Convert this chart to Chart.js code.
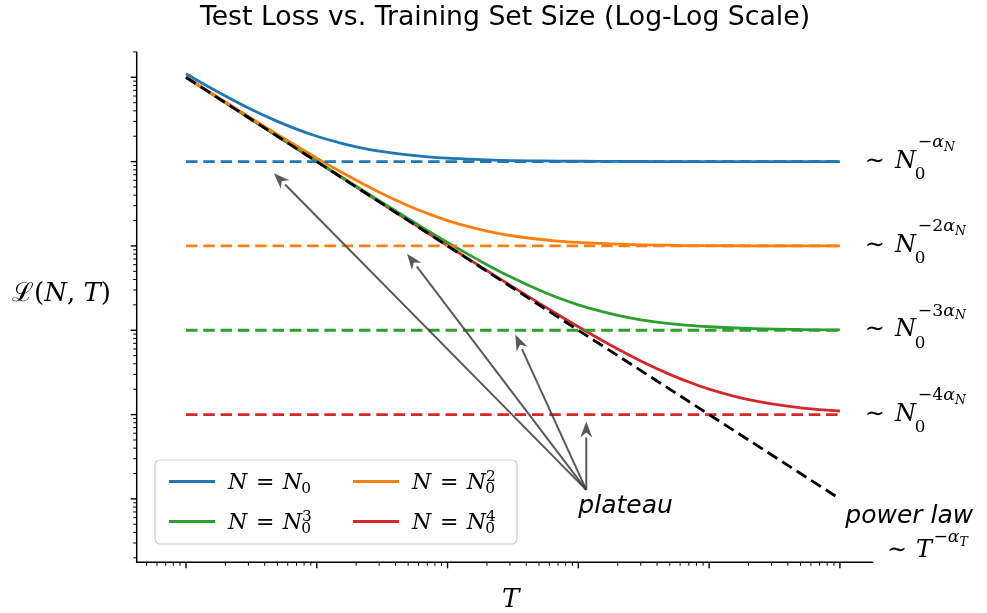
<!DOCTYPE html>
<html>
<head>
<meta charset="utf-8">
<script src="https://cdn.jsdelivr.net/npm/chart.js@4"></script>
<style>
  html, body { margin: 0; padding: 0; background: #fff; }
  #wrap { width: 987px; height: 613px; }
</style>
</head>
<body>
<div id="wrap"><canvas id="chartLoss" width="987" height="613"></canvas></div>
<script>
// training set sizes T (sampled along the curves)
const sizes = [1, 1.5, 2, 3, 5, 7, 10, 15, 20, 30, 50, 70, 100, 150, 200, 300, 500, 700,
    1000, 1500, 2000, 3000, 5000, 7000, 10000, 20000, 50000, 100000];

// test loss, one list per model size
const lossN1 = [1.1, 0.767, 0.6, 0.433, 0.3, 0.243, 0.2, 0.167, 0.15, 0.133, 0.12, 0.114, 0.11,
    0.107, 0.105, 0.103, 0.102, 0.1014, 0.101, 0.1007, 0.1005, 0.1003, 0.1002, 0.1001, 0.1001, 0.1, 0.1, 0.1];
const lossN2 = [1.01, 0.677, 0.51, 0.343, 0.21, 0.153, 0.11, 0.0767, 0.06, 0.0433, 0.03, 0.0243, 0.02,
    0.0167, 0.015, 0.0133, 0.012, 0.0114, 0.011, 0.0107, 0.0105, 0.0103, 0.0102, 0.0101, 0.0101, 0.01, 0.01, 0.01];
const lossN3 = [1.001, 0.668, 0.501, 0.334, 0.201, 0.144, 0.101, 0.0677, 0.051, 0.0343, 0.021, 0.0153, 0.011,
    0.00767, 0.006, 0.00433, 0.003, 0.00243, 0.002, 0.00167, 0.0015, 0.00133, 0.0012, 0.00114, 0.0011,
    0.00105, 0.00102, 0.00101];
const lossN4 = [1.0001, 0.6668, 0.5001, 0.3334, 0.2001, 0.143, 0.1001, 0.0668, 0.0501, 0.0334, 0.0201, 0.0144,
    0.0101, 0.00677, 0.0051, 0.00343, 0.0021, 0.00153, 0.0011, 0.000767, 0.0006, 0.000433, 0.0003,
    0.000243, 0.0002, 0.00015, 0.00012, 0.00011];

// plateau levels and the pure power law
const plateaus = [0.1, 0.01, 0.001, 0.0001];
const plateauSpan = [1, 100000];
const powerT = [1, 100000];
const powerLoss = [1, 0.00001];

// arrow tips (T, loss) and their shared tail
const arrowT = [4.7, 49, 330, 1150];
const arrowLoss = [0.073, 0.0081, 0.00089, 0.000083];
const arrowTail = [1150, 0.0000128];

const labels = ["N = N₀", "N = N₀²", "N = N₀³", "N = N₀⁴"];
const colors = ["#1f77b4", "#ff7f0e", "#2ca02c", "#d62728"];

const pts = (xs, ys) => xs.map((x, i) => ({ x: x, y: ys[i] }));

const MATH = '"DejaVu Serif", "Liberation Serif", serif';
const SANS = '"DejaVu Sans", sans-serif';

// small helper for sub/superscripts: runs of text with scale and offset
function drawRuns(ctx, x, y, runs, size) {
    let cx = x;
    let mark = x;
    for (const r of runs) {
        const s = size * (r.s || 1);
        ctx.font = (r.it ? "italic " : "") + s + "px " + MATH;
        if (r.mark) mark = cx;
        if (r.back) cx = mark;
        cx += (r.dx || 0) * size;
        ctx.fillText(r.t, cx, y + (r.dy || 0) * size);
        cx += ctx.measureText(r.t).width;
    }
}

const legendRuns = ["", "2", "3", "4"].map((k) => {
    const r = [{ t: "N", it: true }, { t: " = ", dx: 0.08 }, { t: "N", it: true, dx: 0.06 },
        { t: "0", s: 0.7, dy: 0.2, mark: true, dx: -0.03 }];
    if (k) r.push({ t: k, s: 0.7, dy: -0.36, back: true });
    return r;
});
const rightRuns = ["", "2", "3", "4"].map((k) => [{ t: "∼ " }, { t: "N", it: true, dx: 0.1 },
    { t: "0", s: 0.7, dy: 0.48, mark: true, dx: -0.05 },
    { t: "−" + k, s: 0.72, dy: -0.86, back: true, dx: 0.08 },
    { t: "α", s: 0.72, dy: -0.86, it: true },
    { t: "N", s: 0.52, dy: -0.7, it: true }]);

const decor = {
    id: "decor",
    afterDraw(chart) {
        const ctx = chart.ctx;
        const xs = chart.scales.x;
        const ys = chart.scales.y;
        const a = chart.chartArea;
        ctx.save();

        // spines
        ctx.strokeStyle = "#000";
        ctx.lineWidth = 1.5;
        ctx.beginPath();
        ctx.moveTo(a.left, a.top);
        ctx.lineTo(a.left, a.bottom);
        ctx.lineTo(a.right, a.bottom);
        ctx.stroke();

        // log ticks
        for (let k = -1; k <= 5; k++) {
            for (let m = 1; m <= 9; m++) {
                const v = m * Math.pow(10, k);
                if (v < xs.min || v > xs.max) continue;
                const px = xs.getPixelForValue(v);
                ctx.lineWidth = m === 1 ? 1.4 : 1;
                ctx.beginPath();
                ctx.moveTo(px, a.bottom);
                ctx.lineTo(px, a.bottom + (m === 1 ? 6 : 3.5));
                ctx.stroke();
            }
        }
        for (let k = -6; k <= 0; k++) {
            for (let m = 1; m <= 9; m++) {
                const v = m * Math.pow(10, k);
                if (v < ys.min || v > ys.max) continue;
                const py = ys.getPixelForValue(v);
                ctx.lineWidth = m === 1 ? 1.4 : 1;
                ctx.beginPath();
                ctx.moveTo(a.left, py);
                ctx.lineTo(a.left - (m === 1 ? 6 : 3.5), py);
                ctx.stroke();
            }
        }

        // arrows
        const tx = xs.getPixelForValue(arrowTail[0]);
        const ty = ys.getPixelForValue(arrowTail[1]);
        ctx.strokeStyle = "rgba(60,60,60,0.85)";
        ctx.fillStyle = "rgba(60,60,60,0.85)";
        ctx.lineWidth = 2;
        arrowT.forEach((t, i) => {
            const hx = xs.getPixelForValue(t);
            const hy = ys.getPixelForValue(arrowLoss[i]);
            const ang = Math.atan2(hy - ty, hx - tx);
            const len = 16, half = 6;
            const bx = hx - len * Math.cos(ang);
            const by = hy - len * Math.sin(ang);
            ctx.beginPath();
            ctx.moveTo(tx, ty);
            ctx.lineTo(bx, by);
            ctx.stroke();
            ctx.beginPath();
            ctx.moveTo(hx, hy);
            ctx.lineTo(bx + half * Math.sin(ang), by - half * Math.cos(ang));
            ctx.lineTo(bx + 0.3 * len * Math.cos(ang), by + 0.3 * len * Math.sin(ang));
            ctx.lineTo(bx - half * Math.sin(ang), by + half * Math.cos(ang));
            ctx.closePath();
            ctx.fill();
        });

        // text annotations
        ctx.fillStyle = "#000";
        ctx.textBaseline = "alphabetic";
        ctx.textAlign = "left";
        ctx.font = "italic 25px " + SANS;
        ctx.fillText("plateau", xs.getPixelForValue(1000), 513);
        ctx.fillText("power law", xs.getPixelForValue(110000), 523);

        const rx = xs.getPixelForValue(155000);
        plateaus.forEach((p, i) => {
            drawRuns(ctx, rx, ys.getPixelForValue(p) + 6, rightRuns[i], 24);
        });
        drawRuns(ctx, 887, 556.5, [{ t: "∼ " }, { t: "T", it: true, dx: 0.05 },
            { t: "−", s: 0.72, dy: -0.6, dx: 0.06 }, { t: "α", s: 0.72, dy: -0.6, it: true },
            { t: "T", s: 0.52, dy: -0.44, it: true }], 24);

        // axis labels
        drawRuns(ctx, 12, 301, [{ t: "ℒ" }, { t: "(" }, { t: "N", it: true }, { t: ", " },
            { t: "T", it: true }, { t: ")" }], 26);
        drawRuns(ctx, 502, 607, [{ t: "T", it: true }], 26);

        // legend
        const lx = 155, ly = 460, lw = 362, lh = 84;
        ctx.beginPath();
        ctx.roundRect(lx, ly, lw, lh, 5);
        ctx.fillStyle = "rgba(255,255,255,0.85)";
        ctx.fill();
        ctx.strokeStyle = "#cccccc";
        ctx.lineWidth = 1.2;
        ctx.stroke();
        const cols = [169, 353];
        const rows = [481.5, 521.5];
        const order = [[0, 0, 0], [1, 1, 0], [2, 0, 1], [3, 1, 1]];
        order.forEach(([i, c, r]) => {
            ctx.strokeStyle = colors[i];
            ctx.lineWidth = 2.8;
            ctx.beginPath();
            ctx.moveTo(cols[c], rows[r]);
            ctx.lineTo(cols[c] + 46, rows[r]);
            ctx.stroke();
            ctx.fillStyle = "#000";
            drawRuns(ctx, cols[c] + 59, rows[r] + 7.5, legendRuns[i], 22);
        });
        ctx.restore();
    },
};

const datasets = [
    {
        label: "power law",
        data: pts(powerT, powerLoss),
        borderColor: "#000",
        borderWidth: 2.8,
        borderDash: [11.5, 5.8],
        order: 0,
    },
];
plateaus.forEach((p, i) => {
    datasets.push({
        label: labels[i] + " plateau",
        data: pts(plateauSpan, [p, p]),
        borderColor: colors[i],
        borderWidth: 2.8,
        borderDash: [11.5, 5.8],
        order: 1 + i,
    });
});
[lossN1, lossN2, lossN3, lossN4].forEach((ys, i) => {
    datasets.push({
        label: labels[i],
        data: pts(sizes, ys),
        borderColor: colors[i],
        borderWidth: 2.8,
        cubicInterpolationMode: "monotone",
        order: 5 + i,
    });
});

const config = {
    type: "scatter",
    data: { datasets: datasets },
    options: {
        responsive: false,
        animation: false,
        devicePixelRatio: 1,
        showLine: true,
        elements: { point: { radius: 0, hoverRadius: 0 } },
        layout: { padding: { left: 136.7, right: 113.7, top: 0, bottom: 50.7 } },
        plugins: {
            legend: { display: false },
            tooltip: { enabled: false },
            title: {
                display: true,
                text: "Test Loss vs. Training Set Size (Log-Log Scale)",
                color: "#000",
                font: { family: "DejaVu Sans", size: 26.7, weight: "normal", lineHeight: 1.2 },
                padding: { top: 2.5, bottom: 17.2 },
            },
        },
        scales: {
            x: {
                type: "logarithmic",
                min: 0.42,
                max: 180000,
                ticks: { display: false },
                grid: { display: false },
                border: { display: false },
                afterFit: (s) => { s.height = 0; },
            },
            y: {
                type: "logarithmic",
                min: 0.00000177,
                max: 2.01,
                ticks: { display: false },
                grid: { display: false },
                border: { display: false },
                afterFit: (s) => { s.width = 0; },
            },
        },
    },
    plugins: [decor],
};

const chartLoss = document.getElementById("chartLoss");
if (chartLoss) {
    new Chart(chartLoss, config);
}
</script>
</body>
</html>
